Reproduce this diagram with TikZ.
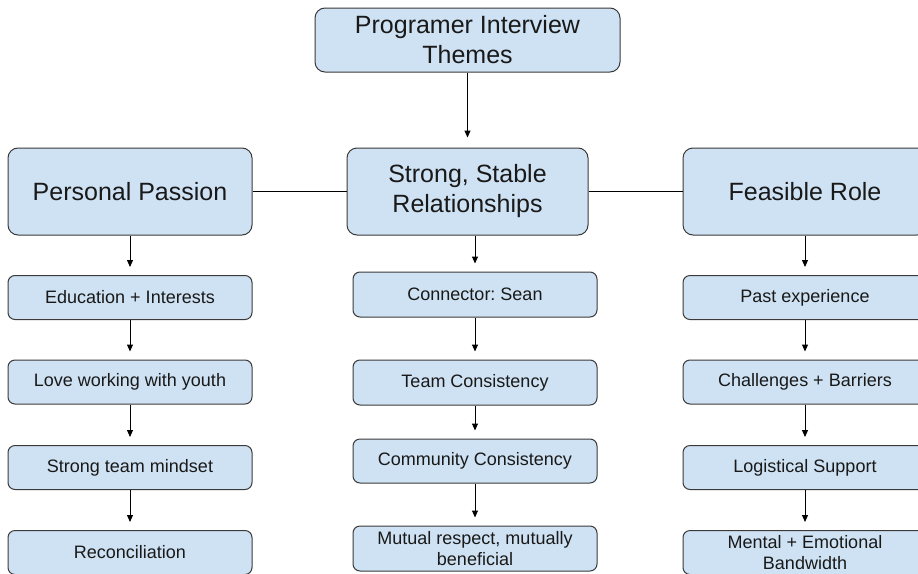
\documentclass[tikz,border=0pt]{standalone}
\usepackage{fontspec}
\setmainfont{Liberation Sans}
\usetikzlibrary{arrows.meta}
\definecolor{boxblue}{HTML}{CFE2F3}
\definecolor{boxline}{HTML}{3A3A3A}
\frenchspacing

\tikzset{
	theme/.style={draw=boxline, fill=boxblue, line width=1pt, rounded corners=10pt, align=center, inner sep=0pt, text=black!90, font=\fontsize{25}{30}\selectfont},
	sub/.style={draw=boxline, fill=boxblue, line width=1pt, rounded corners=7pt, align=center, inner sep=0pt, text=black!90, minimum width=244pt, minimum height=44pt, font=\fontsize{18}{21}\selectfont},
	link/.style={line width=1pt, -{Triangle[length=7pt,width=6pt]}, shorten >=8pt}
}

\begin{document}
\begin{tikzpicture}[x=1pt,y=-1pt]
	\useasboundingbox (0,0) rectangle (918,573);
	% themes
	\node[theme, minimum width=305pt, minimum height=64pt] (top) at (467.5,40) {Programer Interview\\Themes};
	\node[theme, minimum width=244pt, minimum height=87pt] (passion) at (130,191.5) {Personal Passion};
	\node[theme, minimum width=241pt, minimum height=87pt] (relations) at (467.5,191.5) {Strong, Stable\\Relationships};
	\node[theme, minimum width=244pt, minimum height=87pt] (role) at (805,191.5) {Feasible Role};
	% left column
	\node[sub] (edu) at (130,297.5) {Education + Interests};
	\node[sub] (youth) at (130,382) {Love working with youth};
	\node[sub] (mindset) at (130,467.5) {Strong team mindset};
	\node[sub] (recon) at (130,552.5) {Reconciliation};
	% middle column
	\node[sub, minimum height=45pt] (conn) at (475,294.5) {Connector: Sean};
	\node[sub, minimum height=45pt] (team) at (475,382.5) {Team Consistency};
	\node[sub, minimum height=44pt] (community) at (475,461) {Community Consistency};
	\node[sub, minimum height=45pt] (mutual) at (475,548.5) {Mutual respect, mutually\\beneficial};
	% right column
	\node[sub] (past) at (805,297.5) {Past experience};
	\node[sub] (barriers) at (805,382) {Challenges + Barriers};
	\node[sub] (logistics) at (805,467.5) {Logistical Support};
	\node[sub] (bandwidth) at (805,552.5) {Mental + Emotional\\Bandwidth};
	% connectors
	\draw[link, shorten >=10pt] (top.south) -- (relations.north);
	\draw[line width=1pt] (passion.east) -- (relations.west);
	\draw[line width=1pt] (relations.east) -- (role.west);
	\foreach \a/\b in {passion/edu, edu/youth, youth/mindset, mindset/recon, relations/conn, conn/team, team/community, community/mutual, role/past, past/barriers, barriers/logistics, logistics/bandwidth}
		\draw[link] (\a.south -| \b.north) -- (\b.north);
\end{tikzpicture}
\end{document}
